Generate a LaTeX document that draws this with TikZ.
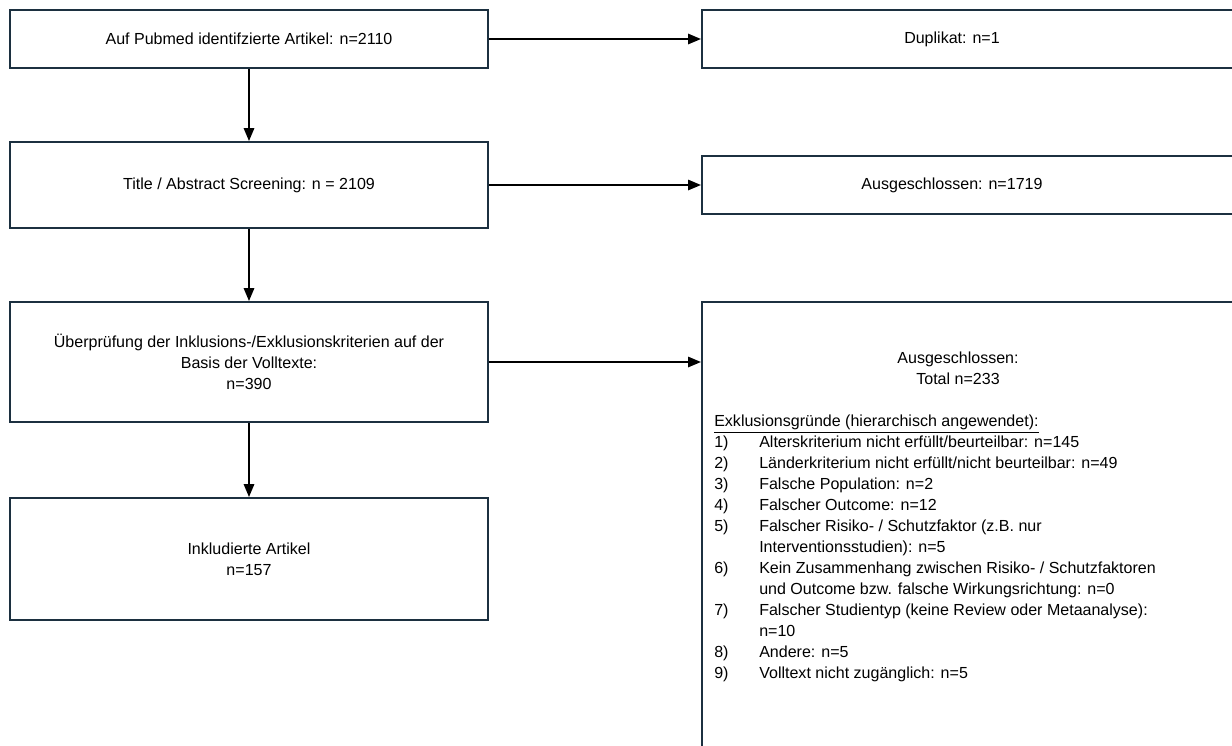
\documentclass[tikz,border=0pt]{standalone}
\usepackage{fontspec}
\setmainfont{Liberation Sans}
\usetikzlibrary{positioning,arrows,calc}
\definecolor{boxline}{HTML}{1C3040}

\tikzset{
  box/.style={draw=boxline, line width=1.5pt, fill=white, inner sep=0pt, align=center,
    font=\fontsize{11.4}{14.9}\selectfont},
  leftbox/.style={box, minimum width=11.95cm},
  rightbox/.style={box, minimum width=13.45cm},
  txt/.style={inner sep=0pt, align=center, font=\fontsize{11.4}{14.9}\selectfont},
  flow/.style={-triangle 45, line width=1.1pt},
}

\begin{document}
\begin{tikzpicture}[x=0.025cm, y=-0.025cm]

\useasboundingbox (0,0) rectangle (1232,745);
\clip (0,0) rectangle (1232,745);

    % left column
    \node[leftbox, minimum height=1.45cm] (pubmed) at (249,39) {Auf Pubmed identifzierte Artikel: n=2110};
    \node[leftbox, minimum height=2.15cm] (screen) at (249,185) {Title / Abstract Screening: n = 2109};
    \node[leftbox, minimum height=3cm] (volltext) at (249,362) {Überprüfung der Inklusions-/Exklusionskriterien auf der\\Basis der Volltexte:\\n=390};
    \node[leftbox, minimum height=3.05cm] (incl) at (249,559) {Inkludierte Artikel\\n=157};

    % right column
    \node[rightbox, minimum height=1.45cm] (dup) at (971,39) {};
    \node[txt] (duptext) at (952,39) {Duplikat: n=1};
    \node[rightbox, minimum height=1.45cm] (excl1) at (971,185) {};
    \node[txt] (excl1text) at (952,185) {Ausgeschlossen: n=1719};
    \node[rightbox, minimum height=11.45cm] (excl2) at (971,531) {};
    \node[txt] (excl2text) at (958,368) {Ausgeschlossen:\\Total n=233};

    \node[txt, anchor=north west, align=left] (gruende) at (714,412) {%
      \begin{tabular}{@{}p{32pt}@{}l@{}}
      \multicolumn{2}{@{}l@{}}{\underline{Exklusionsgründe (hierarchisch angewendet):}}\\
      1) & Alterskriterium nicht erfüllt/beurteilbar: n=145\\
      2) & Länderkriterium nicht erfüllt/nicht beurteilbar: n=49\\
      3) & Falsche Population: n=2\\
      4) & Falscher Outcome: n=12\\
      5) & Falscher Risiko- / Schutzfaktor (z.B. nur\\
         & Interventionsstudien): n=5\\
      6) & Kein Zusammenhang zwischen Risiko- / Schutzfaktoren\\
         & und Outcome bzw. falsche Wirkungsrichtung: n=0\\
      7) & Falscher Studientyp (keine Review oder Metaanalyse):\\
         & n=10\\
      8) & Andere: n=5\\
      9) & Volltext nicht zugänglich: n=5
      \end{tabular}};

    % arrows
    \draw[flow] (pubmed) -- (screen);
    \draw[flow] (screen) -- (volltext);
    \draw[flow] (volltext) -- (incl);
    \draw[flow] (pubmed.east) -- (pubmed.east -| dup.west);
    \draw[flow] (screen.east) -- (screen.east -| excl1.west);
    \draw[flow] (volltext.east) -- (volltext.east -| excl2.west);

\end{tikzpicture}
\end{document}
